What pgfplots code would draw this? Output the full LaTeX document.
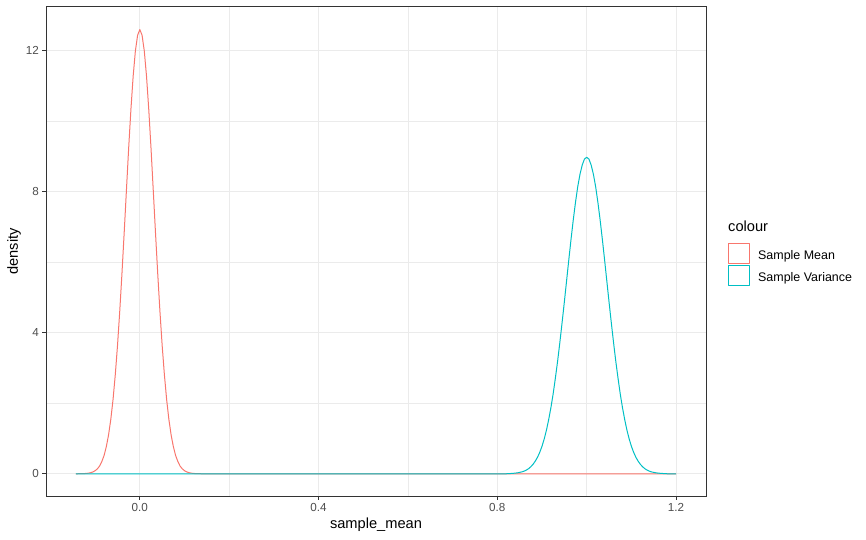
\documentclass[border=0pt]{standalone}
\usepackage{pgfplots}
\pgfplotsset{compat=1.18}
\usepackage{fontspec}
\setmainfont{Liberation Sans}
\definecolor{ggred}{HTML}{F8766D}
\definecolor{ggteal}{HTML}{00BFC4}
\definecolor{gray92}{HTML}{EBEBEB}
\definecolor{gray20}{HTML}{333333}
\definecolor{gray30}{HTML}{4D4D4D}
\pgfplotstableread{
x y
-0.143 0
-0.13 0.002
-0.125 0.005
-0.12 0.010
-0.115 0.018
-0.11 0.031
-0.105 0.052
-0.10 0.087
-0.095 0.14
-0.09 0.22
-0.085 0.35
-0.08 0.52
-0.075 0.77
-0.07 1.10
-0.065 1.54
-0.06 2.10
-0.055 2.80
-0.05 3.63
-0.045 4.60
-0.04 5.68
-0.035 6.84
-0.03 8.04
-0.025 9.23
-0.02 10.32
-0.015 11.26
-0.01 11.98
-0.005 12.43
0 12.59
0.005 12.43
0.01 11.98
0.015 11.26
0.02 10.32
0.025 9.23
0.03 8.04
0.035 6.84
0.04 5.68
0.045 4.60
0.05 3.63
0.055 2.80
0.06 2.10
0.065 1.54
0.07 1.10
0.075 0.77
0.08 0.52
0.085 0.35
0.09 0.22
0.095 0.14
0.10 0.087
0.105 0.052
0.11 0.031
0.115 0.018
0.12 0.010
0.125 0.005
0.13 0.002
0.14 0
1.2 0
}\meandata
\pgfplotstableread{
x y
-0.143 0
0.82 0
0.835 0.012
0.845 0.026
0.855 0.053
0.86 0.075
0.865 0.105
0.87 0.145
0.875 0.20
0.88 0.27
0.885 0.36
0.89 0.47
0.895 0.61
0.90 0.78
0.905 0.99
0.91 1.24
0.915 1.54
0.92 1.88
0.925 2.27
0.93 2.72
0.935 3.20
0.94 3.73
0.945 4.29
0.95 4.87
0.955 5.47
0.96 6.07
0.965 6.65
0.97 7.20
0.975 7.70
0.98 8.14
0.985 8.49
0.99 8.75
0.995 8.92
1.00 8.97
1.005 8.92
1.01 8.75
1.015 8.49
1.02 8.14
1.025 7.70
1.03 7.20
1.035 6.65
1.04 6.07
1.045 5.47
1.05 4.87
1.055 4.29
1.06 3.73
1.065 3.20
1.07 2.72
1.075 2.27
1.08 1.88
1.085 1.54
1.09 1.24
1.095 0.99
1.10 0.78
1.105 0.61
1.11 0.47
1.115 0.36
1.12 0.27
1.125 0.20
1.13 0.145
1.135 0.105
1.14 0.075
1.145 0.053
1.155 0.026
1.165 0.012
1.18 0
1.2 0
}\vardata
\begin{document}
\begin{tikzpicture}
\useasboundingbox (-46bp,-44bp) rectangle (820bp,496bp);
\begin{axis}[
  at={(0,0)}, anchor=south west,
  scale only axis,
  width=660bp, height=489bp,
  xmin=-0.21, xmax=1.267,
  ymin=-0.63, ymax=13.23,
  xtick={0,0.4,0.8,1.2},
  ytick={0,4,8,12},
  minor tick num=1,
  grid=both,
  major grid style={color=gray92, line width=1bp},
  minor grid style={color=gray92, line width=0.6bp},
  axis line style={color=gray20, line width=1bp},
  tick align=outside,
  xtick pos=bottom, ytick pos=left,
  major tick length=3.7bp,
  minor tick length=0pt,
  tick style={color=gray20, line width=1bp},
  /pgf/number format/assume math mode=true,
  xticklabel style={/pgf/number format/.cd, fixed, fixed zerofill, precision=1},
  yticklabel style={/pgf/number format/.cd, fixed, precision=0},
  tick label style={font=\fontsize{11.7}{14}\selectfont, color=gray30},
  xlabel={sample\_mean},
  ylabel={density},
  label style={font=\fontsize{14.7}{17}\selectfont, color=black},
  xlabel style={at={(axis description cs:0.5,-0.0593)}, anchor=center},
  ylabel style={at={(axis description cs:-0.0485,0.5)}, anchor=center, rotate=0},
  legend style={draw=none, fill=none, inner sep=0pt,
    at={(axis description cs:1.0333,0.518)}, anchor=north west,
    row sep=1.5bp, column sep=6bp,
    font=\fontsize{12.5}{15}\selectfont},
  legend cell align=left,
  legend image code/.code={\draw[#1, line width=1bp, fill=white] (0bp,-8bp) rectangle (21bp,12bp);},
  clip=false,
]
\addplot[color=ggred, line width=1bp, line join=round] table[x=x,y=y] {\meandata};
\addlegendentry{Sample Mean}
\addplot[color=ggteal, line width=1bp, line join=round] table[x=x,y=y] {\vardata};
\addlegendentry{Sample Variance}
\node[anchor=base west, inner sep=0pt, font=\fontsize{14.7}{17}\selectfont] at (axis description cs:1.0333,0.5419) {colour};
\end{axis}
\end{tikzpicture}
\end{document}
